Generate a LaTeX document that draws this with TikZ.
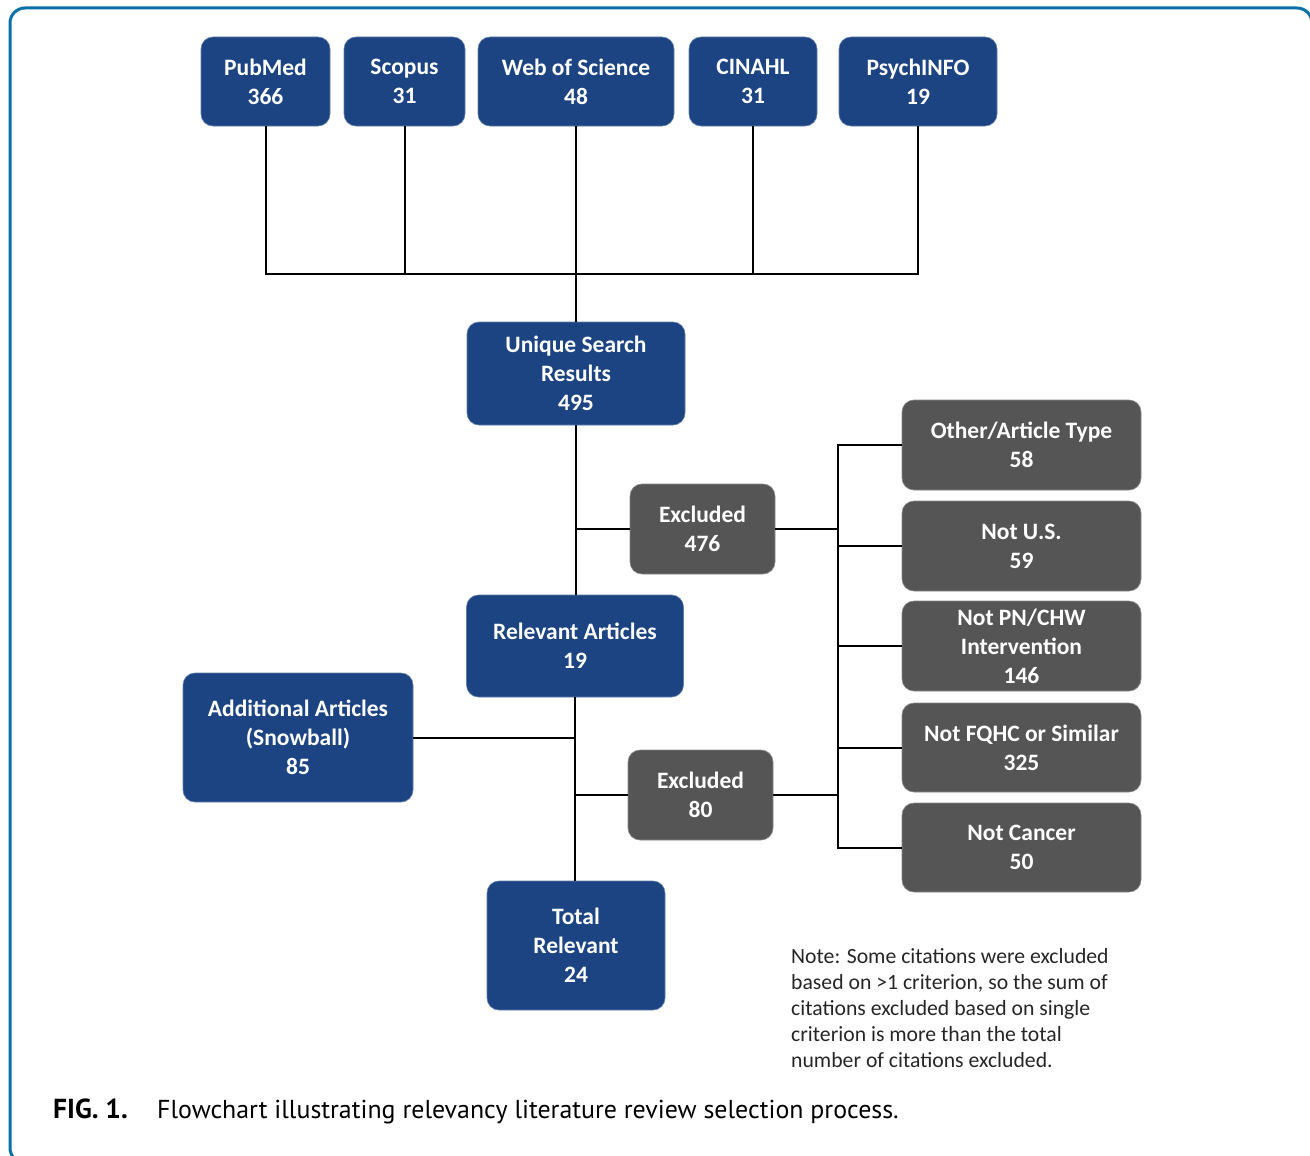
\documentclass[tikz,border=0pt]{standalone}
\usepackage{fontspec}
\setmainfont{Carlito}
\newfontfamily\capfont{PT Sans}
\definecolor{boxblue}{HTML}{1C4483}
\definecolor{boxgray}{HTML}{555555}
\definecolor{framecol}{HTML}{0B70A8}
\begin{document}
\begin{tikzpicture}[x=1pt,y=-1pt,
  base/.style={rounded corners=12pt, inner sep=0pt, align=center, text=white,
     font=\fontsize{23.5}{29}\selectfont\bfseries},
  bluebox/.style={base, fill=boxblue, draw=boxblue!70!white, line width=0.6pt},
  graybox/.style={base, fill=boxgray, draw=boxgray!70!white, line width=0.6pt},
  conn/.style={draw=black, line width=2pt}]
\useasboundingbox (0,0) rectangle (1310,1156);
\begin{scope}
\clip (0,0) rectangle (1310,1156);
\draw[framecol, line width=3pt, rounded corners=15pt]
  (300,1163) -- (10,1163) -- (10,8) -- (1312,8) -- (1312,300);
\end{scope}

% top sources
\node[bluebox, minimum width=129pt, minimum height=89pt] (pubmed) at (265.5,81.5) {PubMed\\366};
\node[bluebox, minimum width=121pt, minimum height=89pt] (scopus) at (404.5,81.5) {Scopus\\31};
\node[bluebox, minimum width=196pt, minimum height=89pt] (wos) at (576,81.5) {Web of Science\\48};
\node[bluebox, minimum width=128pt, minimum height=89pt] (cinahl) at (753,81.5) {CINAHL\\31};
\node[bluebox, minimum width=158pt, minimum height=89pt] (psych) at (918,81.5) {PsychINFO\\19};

\node[bluebox, minimum width=218pt, minimum height=103pt] (usr) at (576,373.5) {Unique Search\\Results\\495};
\node[graybox, minimum width=145pt, minimum height=90pt] (ex1) at (702.5,529) {Excluded\\476};
\node[bluebox, minimum width=217pt, minimum height=102pt] (rel) at (575,646) {Relevant Articles\\19};
\node[bluebox, minimum width=230pt, minimum height=129pt] (add) at (298,737.5) {Additional Articles\\(Snowball)\\85};
\node[graybox, minimum width=145pt, minimum height=90pt] (ex2) at (700.5,795) {Excluded\\80};
\node[bluebox, minimum width=178pt, minimum height=129pt] (total) at (576,945.5) {Total\\Relevant\\24};

% exclusion reasons
\node[graybox, minimum width=239pt, minimum height=90pt] (other) at (1021.5,445) {Other/Article Type\\58};
\node[graybox, minimum width=239pt, minimum height=90pt] (notus) at (1021.5,546) {Not U.S.\\59};
\node[graybox, minimum width=239pt, minimum height=90pt] (notpn) at (1021.5,646) {Not PN/CHW\\Intervention\\146};
\node[graybox, minimum width=239pt, minimum height=89pt] (notfq) at (1021.5,747.5) {Not FQHC or Similar\\325};
\node[graybox, minimum width=239pt, minimum height=89pt] (notca) at (1021.5,847.5) {Not Cancer\\50};

\coordinate (jtop) at (576,274);
\coordinate (bx) at (838,445);

% connectors top
\draw[conn] (pubmed.south) |- (psych.south |- jtop) -- (psych.south);
\draw[conn] (scopus.south) -- (scopus.south |- jtop);
\draw[conn] (cinahl.south) -- (cinahl.south |- jtop);
\draw[conn] (wos.south) -- (usr.north);
\draw[conn] (usr.south) -- (usr.south |- rel.north);
\draw[conn] (ex1.west) -- (ex1.west -| usr.south);
\draw[conn] (rel.south) -- (rel.south |- total.north);
\draw[conn] (add.east) -- (add.east -| rel.south);
\draw[conn] (ex2.west) -- (ex2.west -| rel.south);

% bracket
\draw[conn] (other.west) -- (other.west -| bx) -- (notca.west -| bx) -- (notca.west);
\draw[conn] (notus.west) -- (notus.west -| bx);
\draw[conn] (notpn.west) -- (notpn.west -| bx);
\draw[conn] (notfq.west) -- (notfq.west -| bx);
\draw[conn] (ex1.east) -- (ex1.east -| bx);
\draw[conn] (ex2.east) -- (ex2.east -| bx);

% note
\node[anchor=north west, inner sep=0pt, align=left, text=black!85,
  font=\fontsize{21.7}{26}\selectfont] (note) at (791,948)
  {Note: Some citations were excluded\\based on >1 criterion, so the sum of\\citations excluded based on single\\criterion is more than the total\\number of citations excluded.};

% caption
\node[anchor=base west, inner sep=0pt, font=\capfont\fontsize{27.5}{30}\selectfont\bfseries] (figlab) at (53,1118) {FIG. 1.};
\node[anchor=base west, inner sep=0pt, font=\capfont\fontsize{25.9}{30}\selectfont] (cap) at (157,1118) {Flowchart illustrating relevancy literature review selection process.};
\end{tikzpicture}
\end{document}
